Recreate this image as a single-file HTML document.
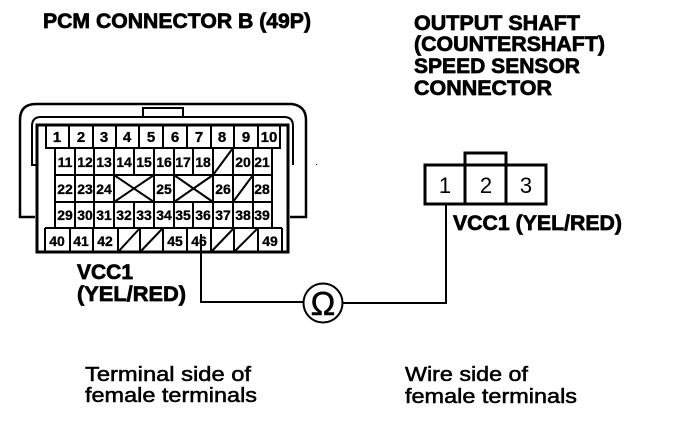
<!DOCTYPE html>
<html><head><meta charset="utf-8"><style>
html,body{margin:0;padding:0;background:#fff}
svg{display:block}
text{font-family:"Liberation Sans",sans-serif;fill:#000}
.h{font-weight:bold;font-size:21px;stroke:#000;stroke-width:.7}
.l{font-size:20.500px;stroke:#000;stroke-width:.55}
.c{font-size:14px;font-weight:bold;text-anchor:middle;stroke:#000;stroke-width:.3}
.r{font-size:15px;font-weight:bold;text-anchor:middle;stroke:#000;stroke-width:.3}
.n{font-size:22px;text-anchor:middle}
</style></head><body>
<svg width="688" height="422" viewBox="0 0 688 422" xmlns="http://www.w3.org/2000/svg">
<g fill="none" stroke="#000" stroke-width="2">
<path d="M35 217H20V120Q20 104 36 104H292Q306 106 306 120V217H290" stroke-width="2.5"/>
<path d="M36 165H32V126Q32 117 41 117H284Q293 117 293 126V165"/>
<path d="M143 117V108H183V117"/>
<rect x="37" y="125" width="251" height="127" stroke-width="3"/>
<path d="M46 125V148H280V125M69 125V148M93 125V148M116 125V148M139 125V148M163 125V148M187 125V148M211 125V148M234 125V148M258 125V148"/>
<path d="M55 148V228M272 148V228M55 175H272M55 202H272M45 228H282"/>
<path d="M75 148V228M94 148V228M114 148V228M134 148V175M134 202V228M154 148V228M174 148V228M193 148V175M193 202V228M213 148V228M233 148V228M253 148V228"/>
<path d="M45 228V252M70 228V252M93 228V252M118 228V252M140 228V252M163 228V252M187 228V252M211 228V252M234 228V252M258 228V252M282 228V252"/>
<path d="M114 175L154 202M154 175L114 202M174 175L213 202M213 175L174 202"/>
<path d="M213 175L233 148M233 202L253 175M118 252L140 228M140 252L163 228M211 252L234 228M234 252L258 228"/>
<path d="M201 234V302H303M343 303H446V205"/>
<circle cx="323" cy="303" r="19.500"/>
<rect x="425" y="165" width="121" height="39" stroke-width="3"/>
<path d="M465 165V204M506 165V204M465 165V153H506V165" stroke-width="3"/>
</g>
<rect x="316" y="164" width="1" height="1" fill="#000"/>

<text class="h" x="43" y="28" textLength="268" lengthAdjust="spacingAndGlyphs">PCM CONNECTOR B (49P)</text>
<text class="h" x="414" y="30" textLength="166" lengthAdjust="spacingAndGlyphs">OUTPUT SHAFT</text>
<text class="h" x="414" y="51" textLength="191" lengthAdjust="spacingAndGlyphs">(COUNTERSHAFT)</text>
<text class="h" x="414" y="73" textLength="166" lengthAdjust="spacingAndGlyphs">SPEED SENSOR</text>
<text class="h" x="414" y="95" textLength="138" lengthAdjust="spacingAndGlyphs">CONNECTOR</text>
<text class="h" x="453" y="230" textLength="169" lengthAdjust="spacingAndGlyphs">VCC1 (YEL/RED)</text>
<text class="h" x="77" y="279" textLength="56" lengthAdjust="spacingAndGlyphs">VCC1</text>
<text class="h" x="77" y="301" textLength="109" lengthAdjust="spacingAndGlyphs">(YEL/RED)</text>
<text class="l" x="85" y="381" textLength="166" lengthAdjust="spacingAndGlyphs">Terminal side of</text>
<text class="l" x="85" y="402" textLength="172" lengthAdjust="spacingAndGlyphs">female terminals</text>
<text class="l" x="405" y="381" textLength="123" lengthAdjust="spacingAndGlyphs">Wire side of</text>
<text class="l" x="405" y="403" textLength="172" lengthAdjust="spacingAndGlyphs">female terminals</text>

<g>
<text class="r" x="57" y="142">1</text><text class="r" x="81" y="142">2</text><text class="r" x="104" y="142">3</text><text class="r" x="127" y="142">4</text><text class="r" x="151" y="142">5</text><text class="r" x="175" y="142">6</text><text class="r" x="199" y="142">7</text><text class="r" x="222" y="142">8</text><text class="r" x="246" y="142">9</text><text class="r" x="269" y="142">10</text>
<text class="c" x="65" y="167">11</text><text class="c" x="85" y="167">12</text><text class="c" x="104" y="167">13</text><text class="c" x="124" y="167">14</text><text class="c" x="144" y="167">15</text><text class="c" x="164" y="167">16</text><text class="c" x="183" y="167">17</text><text class="c" x="203" y="167">18</text><text class="c" x="243" y="167">20</text><text class="c" x="262" y="167">21</text>
<text class="c" x="65" y="194">22</text><text class="c" x="85" y="194">23</text><text class="c" x="104" y="194">24</text><text class="c" x="164" y="194">25</text><text class="c" x="223" y="194">26</text><text class="c" x="262" y="194">28</text>
<text class="c" x="65" y="220">29</text><text class="c" x="85" y="220">30</text><text class="c" x="104" y="220">31</text><text class="c" x="124" y="220">32</text><text class="c" x="144" y="220">33</text><text class="c" x="164" y="220">34</text><text class="c" x="183" y="220">35</text><text class="c" x="203" y="220">36</text><text class="c" x="223" y="220">37</text><text class="c" x="243" y="220">38</text><text class="c" x="262" y="220">39</text>
<text class="c" x="57" y="246">40</text><text class="c" x="81" y="246">41</text><text class="c" x="105" y="246">42</text><text class="c" x="175" y="246">45</text><text class="c" x="199" y="246">46</text><text class="c" x="270" y="246">49</text>
</g>
<text class="n" x="445" y="193">1</text><text class="n" x="486" y="193">2</text><text class="n" x="526" y="193">3</text>
<text x="323" y="315" font-size="33" text-anchor="middle" stroke="#000" stroke-width=".5">Ω</text>
</svg>
</body></html>
